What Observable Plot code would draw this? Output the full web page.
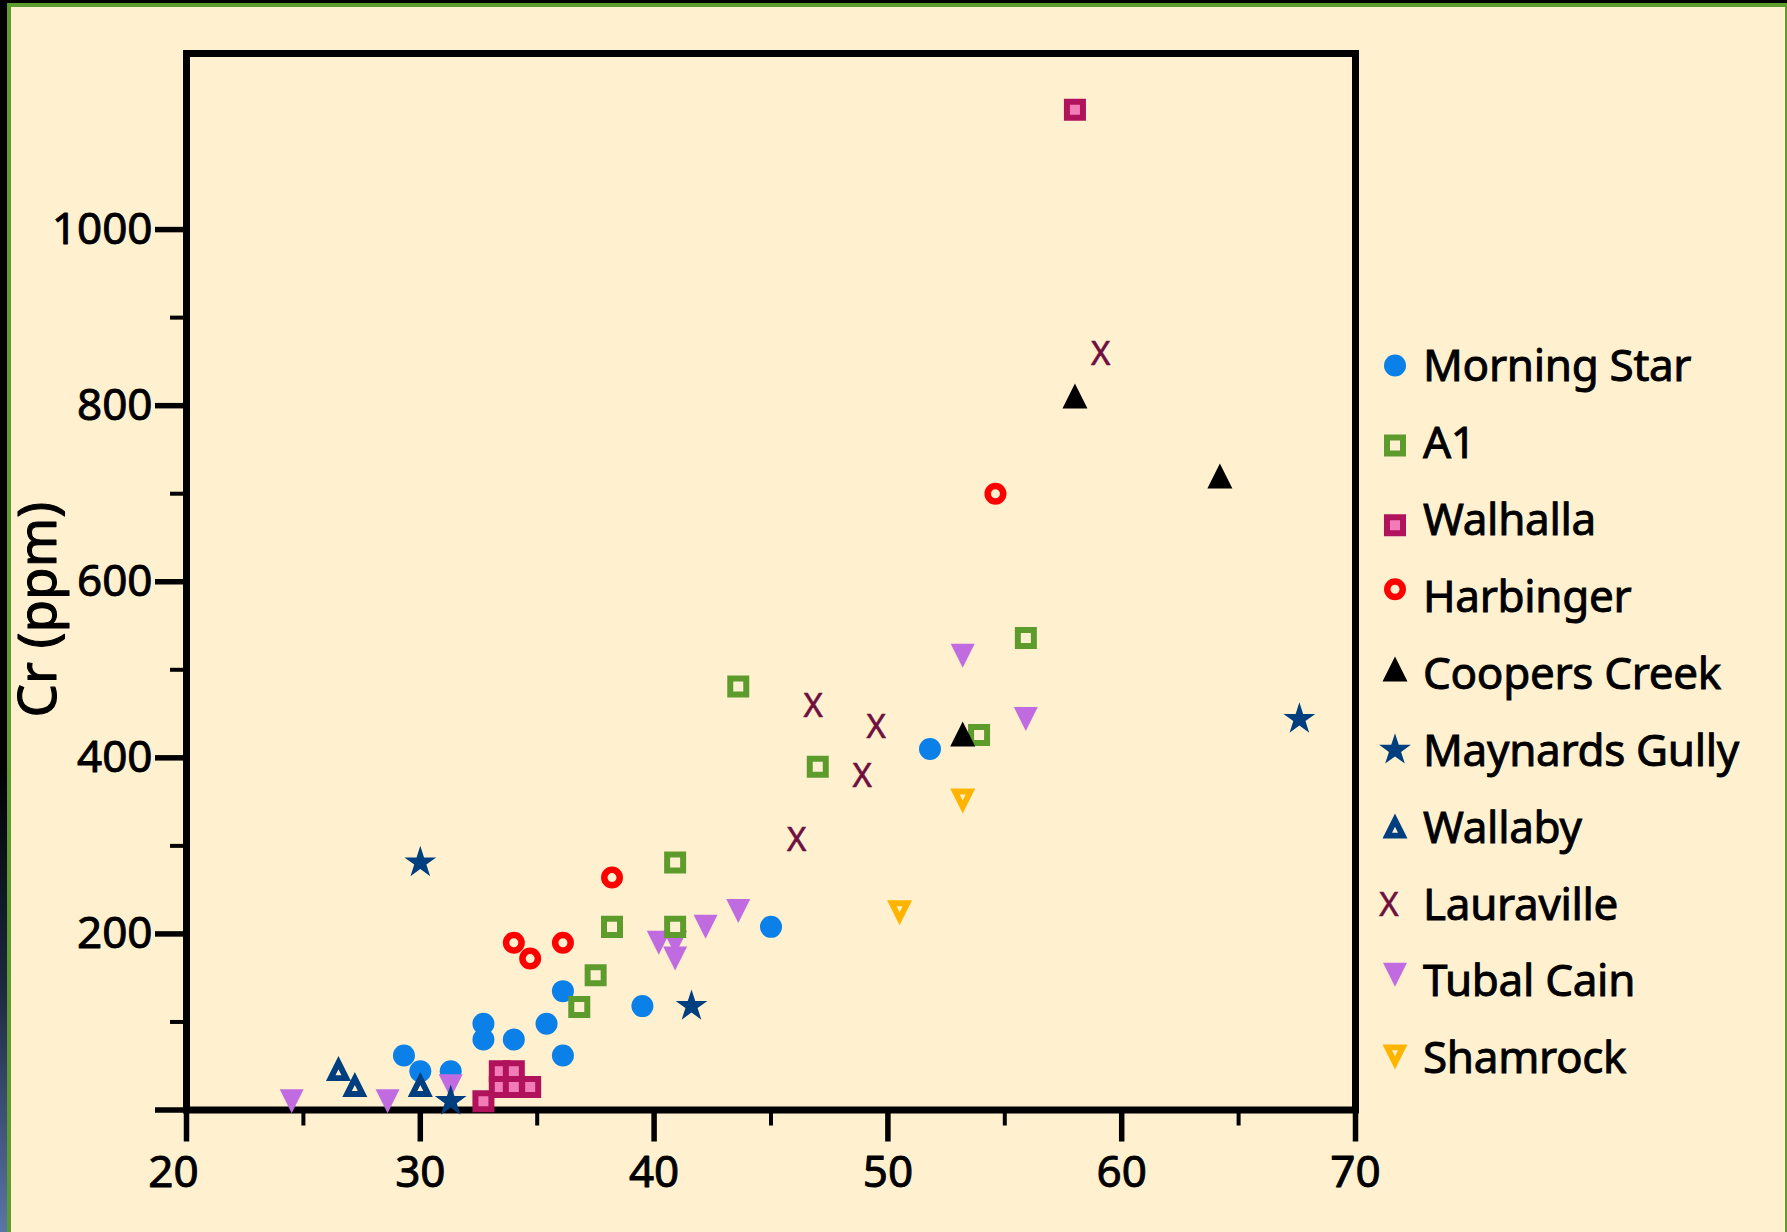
<!DOCTYPE html>
<html>
<head>
<meta charset="utf-8">
<script src="https://cdn.jsdelivr.net/npm/d3@7"></script>
<script src="https://cdn.jsdelivr.net/npm/@observablehq/plot@0.6"></script>
<style>
  html, body { margin: 0; padding: 0; background: #000; }
  #page { position: relative; width: 1787px; height: 1232px; overflow: hidden;
    background: linear-gradient(to bottom, #000 0%, #000 62%, #1c2740 80%, #5a75a8 100%); }
  #panel { position: absolute; left: 7px; top: 3px; width: 1780px; height: 1229px; box-sizing: border-box;
    background: #FFF1D0; border-top: 4px solid #5E9C2E; border-left: 4px solid #5E9C2E; border-right: 2px solid #5E9C2E; }
  #chart, #legend { position: absolute; left: 0; top: 0; }
</style>
</head>
<body>
<div id="page"><div id="panel"></div><div id="chart"></div><svg id="legend" width="1787" height="1232"></svg></div>
<script>
// ---------------- data ----------------
const seriesNames = ["Morning Star", "A1", "Walhalla", "Harbinger", "Coopers Creek",
                     "Maynards Gully", "Wallaby", "Lauraville", "Tubal Cain", "Shamrock"];

const morningStarX = [29.3, 30.0, 31.3, 32.7, 32.7, 34.0, 35.4, 36.1, 36.1, 39.5, 45.0, 51.8];
const morningStarY = [62, 44, 44, 98, 80, 80, 98, 135, 62, 118, 208, 410];

const a1X = [36.8, 37.5, 38.2, 40.9, 40.9, 43.6, 47.0, 53.9, 55.9];
const a1Y = [117, 153, 208, 208, 281, 481, 390, 426, 536];

const walhallaX = [32.7, 33.4, 34.0, 33.4, 34.0, 34.7, 58.0];
const walhallaY = [10, 44, 44, 26, 26, 26, 1136];

const harbingerX = [34.0, 34.7, 36.1, 38.2, 54.6];
const harbingerY = [190, 172, 190, 264, 700];

const coopersCreekX = [53.2, 58.0, 64.2];
const coopersCreekY = [427, 811, 720];

const maynardsGullyX = [30.0, 31.3, 41.6, 67.6];
const maynardsGullyY = [281, 10, 118, 444];

const wallabyX = [26.5, 27.2, 30.0];
const wallabyY = [45, 27, 27];

const lauravilleX = [46.8, 49.5, 48.9, 46.1, 59.1];
const lauravilleY = [458, 435, 379, 306, 858];

const tubalCainX = [24.5, 28.6, 31.3, 40.2, 40.9, 40.9, 42.2, 43.6, 53.2, 55.9];
const tubalCainY = [10, 10, 27, 190, 190, 172, 208, 226, 516, 444];

const shamrockX = [53.2, 50.5];
const shamrockY = [353, 226];

const xMajorTicks = [20, 30, 40, 50, 60, 70];
const xMinorTicks = [25, 35, 45, 55, 65];
const yMajorTicks = [0, 200, 400, 600, 800, 1000];
const yMinorTicks = [100, 300, 500, 700, 900];
const yLabel = "Cr (ppm)";

// ---------------- symbols & styles ----------------
const triUp = { draw(ctx, size) { const r = Math.sqrt(size / Math.PI);
  ctx.moveTo(0, -r); ctx.lineTo(r, r); ctx.lineTo(-r, r); ctx.closePath(); } };
const triDown = { draw(ctx, size) { const r = Math.sqrt(size / Math.PI);
  ctx.moveTo(-r, -r); ctx.lineTo(r, -r); ctx.lineTo(0, r); ctx.closePath(); } };

const cream = "#FFF1D0";
const styles = {
  "Morning Star":   { symbol: d3.symbolCircle, r: 11,   fill: "#0A80E8", stroke: "none", strokeWidth: 0, dy: 0 },
  "A1":             { symbol: d3.symbolSquare, r: 9.03, fill: cream, stroke: "#5C9B2C", strokeWidth: 6, dy: 3 },
  "Walhalla":       { symbol: d3.symbolSquare, r: 9.03, fill: "#F27CB6", stroke: "#B0125C", strokeWidth: 6, dy: 6 },
  "Harbinger":      { symbol: d3.symbolCircle, r: 7.75, fill: "none", stroke: "#FF0000", strokeWidth: 6.5, dy: -7 },
  "Coopers Creek":  { symbol: triUp,   r: 12.5, fill: "#000000", stroke: "none", strokeWidth: 0, dy: -4 },
  "Maynards Gully": { symbol: d3.symbolStar, r: 10, fill: "#003F7F", stroke: "none", strokeWidth: 0, dy: 0 },
  "Wallaby":        { symbol: triUp,   r: 7.75, fill: "none", stroke: "#003F7F", strokeWidth: 5.9, dy: 1 },
  "Lauraville":     { text: "X", fontSize: 33, fill: "#6E0F3E", dy: 0, dx: -6 },
  "Tubal Cain":     { symbol: triDown, r: 12, fill: "#C06CE0", stroke: "none", strokeWidth: 0, dy: -6 },
  "Shamrock":       { symbol: triDown, r: 7.75, fill: "none", stroke: "#FFB400", strokeWidth: 5.9, dy: -2.5 }
};

const zip = (xs, ys) => xs.map((x, i) => ({x, y: ys[i]}));
const dotMark = (name, xs, ys) => {
  const s = styles[name];
  return Plot.dot(zip(xs, ys), { x: d => d.x, y: d => d.y, symbol: s.symbol, r: s.r,
    fill: s.fill, stroke: s.stroke, strokeWidth: s.strokeWidth });
};

const FONT = "Noto Sans";
const TEXT_STROKE = 0.9;   // slight thickening, the reference type is a heavier face
const chart = Plot.plot({
  width: 1787, height: 1232,
  marginLeft: 186, marginRight: 432, marginTop: 53, marginBottom: 122.5,
  x: { domain: [20, 70], label: null },
  y: { domain: [0, 1200], label: null },
  style: { background: "transparent", fontFamily: FONT, color: "black", overflow: "visible" },
  marks: [
    Plot.axisY({ ticks: yMinorTicks, tickSize: 16, strokeWidth: 4, fill: "none", label: null }),
    Plot.axisY({ ticks: yMajorTicks, tickSize: 31, tickPadding: 3, strokeWidth: 5.5, fontSize: 44,
      textStroke: "black", textStrokeWidth: TEXT_STROKE,
      tickFormat: d => d === 0 ? "" : String(d), label: null }),
    Plot.axisX({ ticks: xMinorTicks, tickSize: 16, strokeWidth: 4, fill: "none", label: null }),
    Plot.axisX({ ticks: xMajorTicks, tickSize: 32, strokeWidth: 5.5, fill: "none", label: null }),
    Plot.axisX({ ticks: xMajorTicks.slice(0, 1), tickSize: 0, tickPadding: 45.5, fontSize: 44, dx: -13,
      textStroke: "black", textStrokeWidth: TEXT_STROKE, tickFormat: d => String(d), label: null }),
    Plot.axisX({ ticks: xMajorTicks.slice(1), tickSize: 0, tickPadding: 45.5, fontSize: 44,
      textStroke: "black", textStrokeWidth: TEXT_STROKE, tickFormat: d => String(d), label: null }),
    Plot.frame({ stroke: "black", strokeWidth: 7 }),
    Plot.text([yLabel], { frameAnchor: "left", text: d => d, rotate: -90, dx: -147, dy: 28,
      fontSize: 53, fill: "black", stroke: "black", strokeWidth: 1.1,
      textAnchor: "middle", lineAnchor: "middle" }),
    dotMark("Morning Star", morningStarX, morningStarY),
    dotMark("Tubal Cain", tubalCainX, tubalCainY),
    dotMark("Wallaby", wallabyX, wallabyY),
    dotMark("Maynards Gully", maynardsGullyX, maynardsGullyY),
    dotMark("A1", a1X, a1Y),
    dotMark("Coopers Creek", coopersCreekX, coopersCreekY),
    dotMark("Walhalla", walhallaX, walhallaY),
    dotMark("Harbinger", harbingerX, harbingerY),
    Plot.text(zip(lauravilleX, lauravilleY), { x: d => d.x, y: d => d.y, text: () => "X",
      fontSize: styles["Lauraville"].fontSize, fill: styles["Lauraville"].fill,
      stroke: styles["Lauraville"].fill, strokeWidth: 0.6 }),
    dotMark("Shamrock", shamrockX, shamrockY)
  ]
});
document.getElementById("chart").appendChild(chart);

// ---------------- legend ----------------
const legend = d3.select("#legend");
const legX = 1395, legText = 1423, legTop = 365.5, legStep = 76.9, legFont = 44;
seriesNames.forEach((name, i) => {
  const s = styles[name];
  const cy = legTop + legStep * i;
  const g = legend.append("g").attr("transform", `translate(${legX + (s.dx || 0)},${cy + s.dy})`);
  if (s.text) {
    g.append("text").text(s.text).attr("font-family", FONT).attr("font-size", s.fontSize)
      .attr("fill", s.fill).attr("stroke", s.fill).attr("stroke-width", 0.6)
      .attr("text-anchor", "middle").attr("dy", "0.36em");
  } else {
    g.append("path").attr("d", d3.symbol(s.symbol, Math.PI * s.r * s.r)())
      .attr("fill", s.fill).attr("stroke", s.stroke).attr("stroke-width", s.strokeWidth);
  }
  legend.append("text").text(name).attr("x", legText).attr("y", cy + 0.357 * legFont)
    .attr("font-family", FONT).attr("font-size", legFont).attr("fill", "black")
    .attr("stroke", "black").attr("stroke-width", TEXT_STROKE).attr("letter-spacing", -0.3);
});
</script>
</body>
</html>
